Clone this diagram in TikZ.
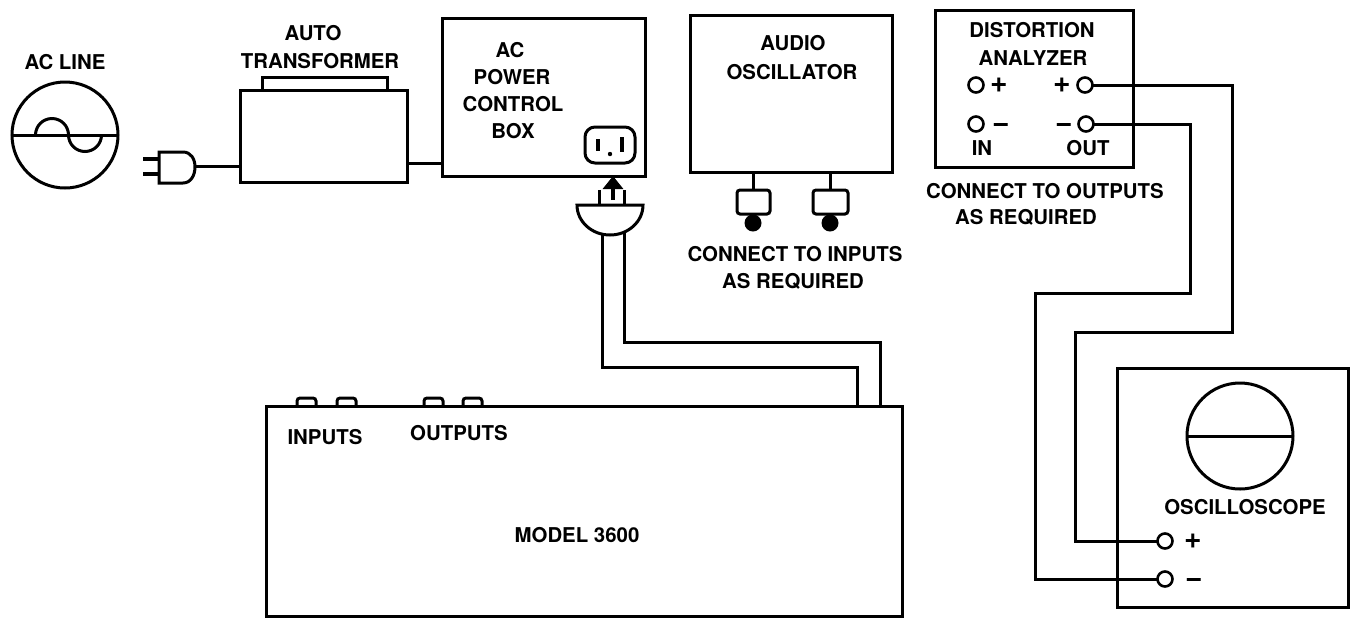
\documentclass[tikz,border=0pt]{standalone}
\usepackage{fontspec}
\setmainfont{TeX Gyre Heros}
\usetikzlibrary{arrows.meta}
\begin{document}
\begin{tikzpicture}[x=0.5pt,y=-0.5pt,
  line width=1.5pt,
  lbl/.style={font=\fontsize{10.2}{13.75}\selectfont\bfseries, inner sep=0pt},
  unit/.style={draw, rectangle, inner sep=0pt, outer sep=0pt},
  term/.style={draw, circle, minimum size=7.5pt, inner sep=0pt, outer sep=0pt, line width=1.3pt},
  sym/.style={font=\fontsize{15}{16}\selectfont\bfseries, inner sep=0pt},
  minus/.style={sym, anchor=base},
  wire/.style={line width=1.5pt},
  thin line/.style={line width=2pt}
]
\fill[white] (0,0) rectangle (1357,623);
\useasboundingbox (0,0) rectangle (1357,623);

% AC line
\node[unit, circle, minimum size=53pt] (acline) at (65,135) {};
\draw (acline.west) -- (acline.east);
\draw (35.5,135) arc[start angle=180,end angle=360,radius=16.5]
      arc[start angle=180,end angle=0,radius=16.5];
\node[lbl] (aclbl) at (65,62) {AC LINE};

% plug
\draw (183,152) .. controls (191,152) and (195,159) .. (195,167)
      .. controls (195,175) and (191,183) .. (183,183) -- (159,183) -- (159,152) -- cycle;
\coordinate (plugtip) at (195,166);
\draw[thin line] (143,159) -- (159,159) (143,174) -- (159,174);

% auto transformer
\node[unit, minimum width=83.5pt, minimum height=46pt] (xfmr) at (323.5,136) {};
\draw (262,0 |- xfmr.north) -- (262,77) -- (387,77) -- (387,0 |- xfmr.north);
\node[lbl] (auto) at (313,33) {AUTO};
\node[lbl] (trans) at (320,61) {TRANSFORMER};
\draw[wire] (plugtip) -- (plugtip -| xfmr.west);

% AC power control box
\node[unit, minimum width=101.5pt, minimum height=79pt] (ctrl) at (543.5,97) {};
\draw[wire] ([yshift=-13.5pt]xfmr.east) -- ([yshift=-13.5pt]xfmr.east -| ctrl.west);
\node[lbl] at (510,50) {AC};
\node[lbl] at (512,77) {POWER};
\node[lbl] at (513,104) {CONTROL};
\node[lbl] at (513,131) {BOX};
\node[unit, rounded corners=5pt, minimum width=25pt, minimum height=18pt] (outlet) at (610,145) {};
\draw[thin line] (598,139) -- (598,151) (622,137) -- (622,152);
\fill (610,154) circle[radius=2.2];
\draw[thin line, -{Triangle[length=6.5pt,width=10pt]}] (613,200) -- (613,0 |- ctrl.south);

% power plug of model
\draw (599,190) -- (599,205) (624,190) -- (624,205);
\draw (577,205) -- (643,205) arc[start angle=0,end angle=180,x radius=33,y radius=30] -- cycle;
\coordinate (cordL) at (602,234);
\coordinate (cordR) at (624,232);

% audio oscillator
\node[unit, minimum width=101pt, minimum height=78.5pt] (aosc) at (791,93.5) {};
\node[lbl] at (793,43) {AUDIO};
\node[lbl] at (792,72) {OSCILLATOR};
\fill (753,223) circle[radius=8.5];
\fill (830,223) circle[radius=8.5];
\draw[fill=white, rounded corners=1.5pt] (737,190) rectangle (770,214);
\draw[fill=white, rounded corners=1.5pt] (813,190) rectangle (848,214);
\draw (753,0 |- aosc.south) -- (753,190);
\draw (830,0 |- aosc.south) -- (830,190);
\node[lbl] at (795,254) {CONNECT TO INPUTS};
\node[lbl] at (793,281) {AS REQUIRED};

% distortion analyzer
\node[unit, minimum width=99pt, minimum height=78.5pt] (dist) at (1034,88.5) {};
\node[lbl] at (1032,30) {DISTORTION};
\node[lbl] at (1033,58) {ANALYZER};
\node[term] (dip) at (976,85) {};
\node[sym] at (999,85) {+};
\node[sym] at (1062,85) {+};
\node[term] (dop) at (1085,85) {};
\node[term] (dim) at (976,124) {};
\node[minus] at (1001,132) {−};
\node[minus] at (1064,132) {−};
\node[term] (dom) at (1086,124) {};
\node[lbl] at (982,148) {IN};
\node[lbl] at (1088,148) {OUT};
\node[lbl] at (1045,191) {CONNECT TO OUTPUTS};
\node[lbl] at (1026,217) {AS REQUIRED};

% model 3600
\node[unit, minimum width=318pt, minimum height=105pt] (model) at (584,511) {};
\foreach \a/\b in {297/316, 337/356, 424/443, 463/482}{
  \draw[rounded corners=1.5pt] (\a,0 |- model.north) -- (\a,398) -- (\b,398) -- (\b,0 |- model.north);
}
\node[lbl] at (325,437) {INPUTS};
\node[lbl] at (459,433) {OUTPUTS};
\node[lbl] at (577,535) {MODEL 3600};
\draw[wire] (cordL) -- (602,367) -- (857,367) -- (857,0 |- model.north);
\draw[wire] (cordR) -- (624,342) -- (880,342) -- (880,0 |- model.north);

% oscilloscope
\node[unit, minimum width=115.5pt, minimum height=119.5pt] (scope) at (1232.5,487.5) {};
\node[unit, circle, minimum size=53pt] (screen) at (1240,436) {};
\draw (screen.west) -- (screen.east);
\node[lbl] at (1245,507) {OSCILLOSCOPE};
\node[term] (sp) at (1165,541) {};
\node[sym] at (1193,541) {+};
\node[term] (sm) at (1165,579) {};
\node[minus] at (1194,587) {−};

% wires analyzer -> scope
\draw[wire] (dop.east) -- (1232,0 |- dop.east) -- (1232,332) -- (1075,332) -- (1075,0 |- sp.west) -- (sp.west);
\draw[wire] (dom.east) -- (1190,0 |- dom.east) -- (1190,293) -- (1035,293) -- (1035,0 |- sm.west) -- (sm.west);
\end{tikzpicture}
\end{document}
